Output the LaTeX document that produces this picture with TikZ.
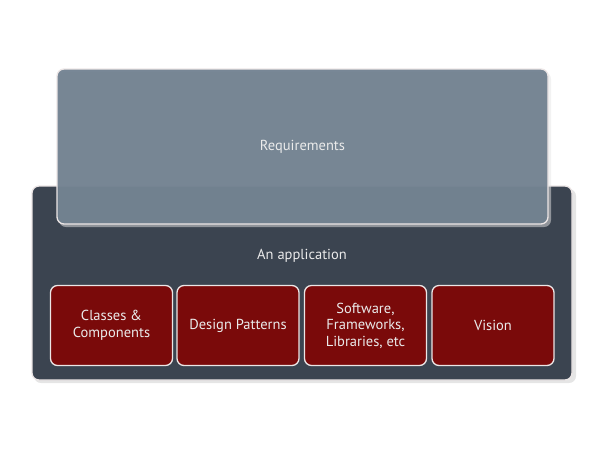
\documentclass[tikz,border=0pt]{standalone}
\usepackage{fontspec}
\setmainfont{PT Sans}
\usetikzlibrary{shadows}
\definecolor{reqfill}{RGB}{112,128,143}
\definecolor{appfill}{RGB}{59,68,80}
\definecolor{redfill}{RGB}{122,10,10}
\definecolor{edgecol}{RGB}{236,230,230}
\tikzset{
  panel/.style={draw=edgecol, line width=1.3pt, rounded corners=7pt},
  redbox/.style={panel, fill=redfill, minimum width=122pt, minimum height=80pt,
    text=white!92!black, align=center, font=\fontsize{14.5}{16.5}\selectfont, inner sep=0pt},
  shade/.style={fill=black!10, rounded corners=7pt, draw=none},
  lbl/.style={text=white!92!black, font=\fontsize{14.5}{17}\selectfont}
}
\begin{document}
\begin{tikzpicture}[x=1pt,y=-1pt]
\useasboundingbox (0,0) rectangle (605,451);
% application panel
\fill[shade] (34,189) rectangle (576,383);
\draw[panel, fill=appfill] (32,186) rectangle (572,380);
\node[lbl] (app) at (302,256) {An application};
\node[redbox] (b1) at (111.5,325.5) {Classes \&\\Components};
\node[redbox] (b2) at (238,325.5) {Design Patterns};
\node[redbox] (b3) at (365.5,325.5) {Software,\\Frameworks,\\Libraries, etc};
\node[redbox] (b4) at (493,325.5) {Vision};
% requirements panel
\fill[shade, fill opacity=0.5] (59,72) rectangle (551,227);
\draw[panel, fill=reqfill, fill opacity=0.94] (57,69) rectangle (548,224);
\node[lbl] (req) at (302.5,147) {Requirements};
\end{tikzpicture}
\end{document}
